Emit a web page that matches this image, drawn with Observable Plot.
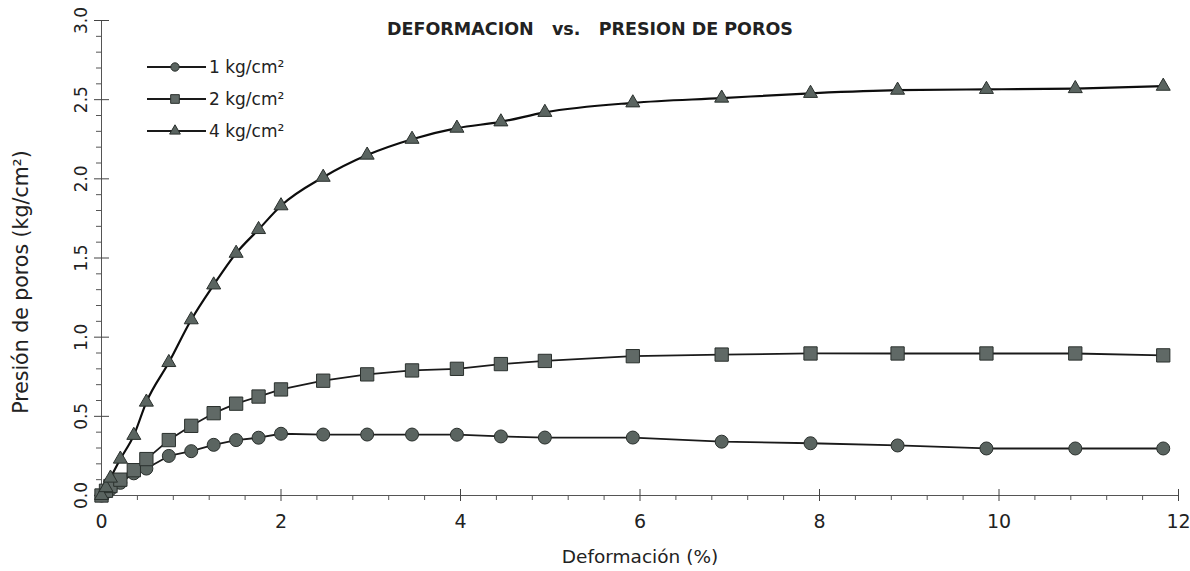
<!DOCTYPE html>
<html>
<head>
<meta charset="utf-8">
<script src="https://cdn.jsdelivr.net/npm/d3@7"></script>
<script src="https://cdn.jsdelivr.net/npm/@observablehq/plot@0.6"></script>
<style>
  html, body { margin: 0; padding: 0; background: #fff; }
  #chart svg { display: block; background: #fff; }
</style>
</head>
<body>
<div id="chart"></div>
<script>
// ---- data ----
const deformacion = [0, 0.05, 0.1, 0.21, 0.36, 0.5, 0.75, 1.0, 1.25, 1.5, 1.75, 2.0, 2.47, 2.96, 3.46, 3.96, 4.45, 4.94, 5.92, 6.91, 7.9, 8.87, 9.86, 10.85, 11.83];
const presion1 = [0, 0.02, 0.04, 0.08, 0.14, 0.17, 0.25, 0.28, 0.32, 0.35, 0.365, 0.39, 0.385, 0.385, 0.385, 0.384, 0.373, 0.366, 0.366, 0.34, 0.33, 0.316, 0.297, 0.297, 0.297];
const presion2 = [0, 0.03, 0.06, 0.1, 0.16, 0.23, 0.35, 0.44, 0.52, 0.58, 0.625, 0.67, 0.725, 0.765, 0.79, 0.80, 0.83, 0.85, 0.88, 0.89, 0.897, 0.897, 0.897, 0.897, 0.885];
const presion4 = [0, 0.05, 0.11, 0.23, 0.38, 0.59, 0.84, 1.11, 1.33, 1.53, 1.68, 1.83, 2.01, 2.15, 2.25, 2.32, 2.36, 2.42, 2.48, 2.51, 2.54, 2.56, 2.565, 2.57, 2.585];
const seriesNames = ["1 kg/cm²", "2 kg/cm²", "4 kg/cm²"];
const seriesSymbols = ["circle", "square", "triangle"];
const xTicks = [0, 2, 4, 6, 8, 10, 12];
const xMinorTicks = d3.range(0, 12.001, 0.4).map(v => +v.toFixed(1)).filter(v => !xTicks.includes(v));
const yTicks = [0, 0.5, 1.0, 1.5, 2.0, 2.5, 3.0];
const yMinorTicks = d3.range(0, 3.001, 0.1).map(v => +v.toFixed(1)).filter(v => !yTicks.includes(v));
const title = "DEFORMACION\u00a0\u00a0\u00a0vs.\u00a0\u00a0\u00a0PRESION DE POROS";
const xLabel = "Deformación (%)";
const yLabel = "Presión de poros (kg/cm²)";

const allSeries = [presion1, presion2, presion4];
const rows = allSeries.flatMap((vals, si) => vals.map((v, i) => ({serie: seriesNames[si], x: deformacion[i], y: v})));
const rowsOf = name => rows.filter(d => d.serie === name);

const markerFill = "#5a6460";
const squareFill = "#606966";
const markerStroke = "#2a302d";
const fontMain = "'DejaVu Sans', Verdana, sans-serif";

const chart = Plot.plot({
  width: 1190,
  height: 571,
  marginLeft: 101,
  marginRight: 12,
  marginTop: 20,
  marginBottom: 76,
  x: {domain: [0, 12]},
  y: {domain: [0, 3]},
  style: {fontFamily: fontMain, background: "#fff"},
  marks: [
    // axis lines
    Plot.ruleY([0], {stroke: "#555", strokeWidth: 1}),
    Plot.ruleX([0], {stroke: "#555", strokeWidth: 1}),
    // x ticks
    Plot.ruleX(xTicks, {x: d => d, y1: 0, y2: 0, insetTop: -6, insetBottom: -6, stroke: "#444"}),
    Plot.ruleX(xMinorTicks, {x: d => d, y1: 0, y2: 0, insetTop: 0, insetBottom: -5, stroke: "#555"}),
    // y ticks
    Plot.ruleY(yTicks, {y: d => d, x1: 0, x2: 0, insetLeft: -7, insetRight: -8, stroke: "#444"}),
    Plot.ruleY(yMinorTicks, {y: d => d, x1: 0, x2: 0, insetLeft: -5, insetRight: 0, stroke: "#555"}),
    // tick labels
    Plot.axisX({ticks: xTicks, tickSize: 0, tickPadding: 19, fontSize: 19, fill: "#222", tickFormat: d3.format("d"), label: null}),
    Plot.axisY({ticks: yTicks, tickSize: 0, tickPadding: 15, tickRotate: -90, fontSize: 17, fill: "#222", tickFormat: d3.format(".1f"), label: null}),
    // axis titles
    Plot.text([xLabel], {frameAnchor: "bottom", dy: 67, fontSize: 18.5, fill: "#222"}),
    Plot.text([yLabel], {frameAnchor: "left", textAnchor: "middle", dx: -80, dy: 24, rotate: -90, fontSize: 20.5, fill: "#222"}),
    // title
    Plot.text([title], {frameAnchor: "top", dx: -50, dy: 2, fontSize: 17.5, fontWeight: "bold", fill: "#222"}),
    // series lines
    Plot.line(rowsOf(seriesNames[0]), {x: "x", y: "y", stroke: "#1a1a1a", strokeWidth: 1.8}),
    Plot.line(rowsOf(seriesNames[1]), {x: "x", y: "y", stroke: "#1a1a1a", strokeWidth: 1.8}),
    Plot.line(rowsOf(seriesNames[2]), {x: "x", y: "y", stroke: "#0d0d0d", strokeWidth: 2.2, curve: "monotone-x"}),
    // markers
    Plot.dot(rowsOf(seriesNames[0]), {x: "x", y: "y", symbol: seriesSymbols[0], r: 6.5, fill: markerFill, stroke: markerStroke, strokeWidth: 1}),
    Plot.dot(rowsOf(seriesNames[1]), {x: "x", y: "y", symbol: seriesSymbols[1], r: 7.5, fill: squareFill, stroke: markerStroke, strokeWidth: 1}),
    Plot.dot(rowsOf(seriesNames[2]), {x: "x", y: "y", symbol: seriesSymbols[2], r: 5.2, fill: markerFill, stroke: markerStroke, strokeWidth: 1})
  ]
});

document.getElementById("chart").appendChild(chart);

// ---- legend drawn inside the plot area ----
const svg = d3.select(chart.tagName.toLowerCase() === "svg" ? chart : chart.querySelector("svg"));
const lg = svg.append("g").attr("class", "legend");
const symTypes = {circle: d3.symbolCircle, square: d3.symbolSquare, triangle: d3.symbolTriangle};
const symSizes = {circle: 55, square: 75, triangle: 50};
seriesNames.forEach((name, i) => {
  const cy = 67 + i * 32;
  lg.append("line").attr("x1", 147).attr("x2", 206).attr("y1", cy).attr("y2", cy)
    .attr("stroke", "#1a1a1a").attr("stroke-width", 1.8);
  lg.append("path").attr("d", d3.symbol(symTypes[seriesSymbols[i]], symSizes[seriesSymbols[i]])())
    .attr("transform", `translate(175,${cy})`)
    .attr("fill", i === 1 ? squareFill : markerFill).attr("stroke", markerStroke).attr("stroke-width", 1);
  lg.append("text").attr("x", 209).attr("y", cy).attr("dy", "0.35em").attr("text-anchor", "start")
    .attr("font-family", fontMain).attr("font-size", 17).attr("fill", "#222").text(name);
});
</script>
</body>
</html>
